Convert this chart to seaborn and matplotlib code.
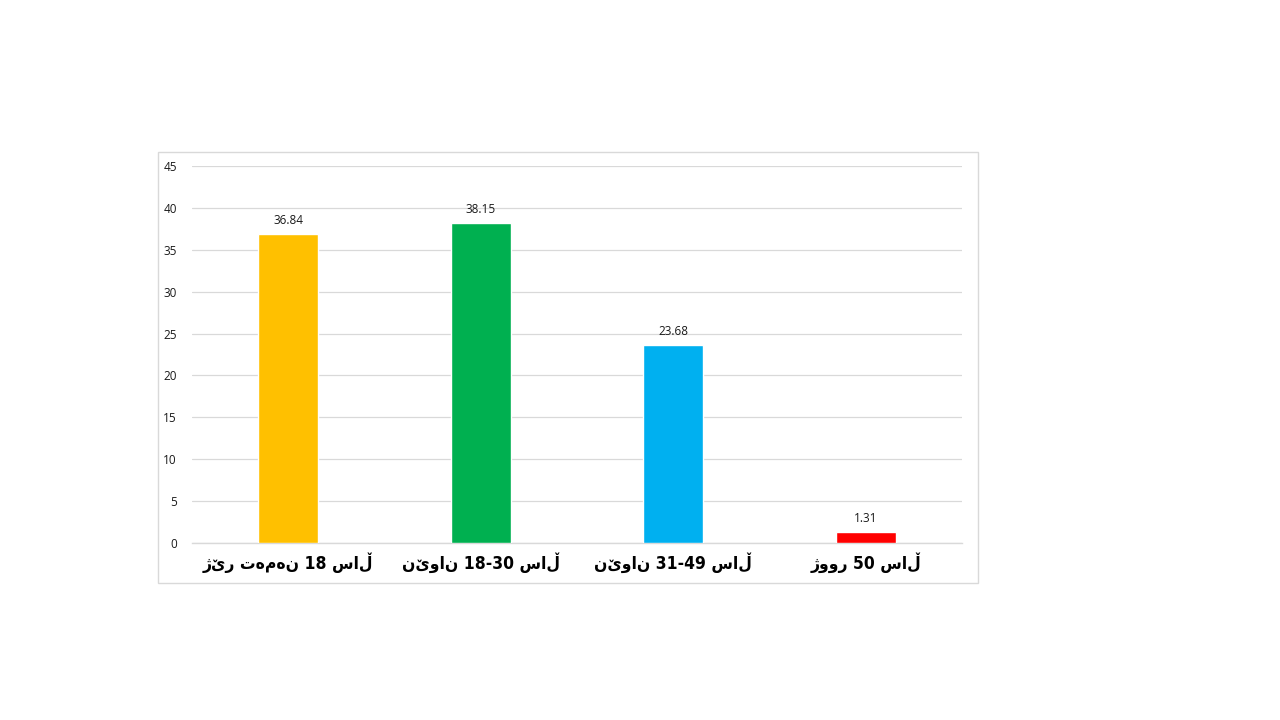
import matplotlib
matplotlib.use("Agg")
import matplotlib.pyplot as plt
import seaborn as sns
import pandas as pd
from matplotlib.patches import Rectangle

categories = ["ژێر تەمەن 18 ساڵ", "نێوان 18-30 ساڵ", "نێوان 31-49 ساڵ", "ژوور 50 ساڵ"]
values = [36.84, 38.15, 23.68, 1.31]
colors = ["#FFC000", "#00B050", "#00B0F0", "#FF0000"]
yticks = [0, 5, 10, 15, 20, 25, 30, 35, 40, 45]

sns.set_theme(style="white")
plt.rcParams["font.family"] = ["Open Sans", "DejaVu Sans"]

df = pd.DataFrame({"cat": categories, "val": values})

fig = plt.figure(figsize=(12.8, 7.2), dpi=100)
fig.patch.set_facecolor("white")
# outer chart frame
fig.patches.append(Rectangle((158 / 1280, 1 - 583 / 720), (978 - 158) / 1280, (583 - 152) / 720,
                             transform=fig.transFigure, fill=False, edgecolor="#D9D9D9",
                             linewidth=1.0, zorder=0))
ax = fig.add_axes([192 / 1280, 1 - 543 / 720, (962 - 192) / 1280, (543 - 166) / 720])

sns.barplot(data=df, x="cat", y="val", hue="cat", palette=colors, legend=False,
            width=0.31, saturation=1, ax=ax, zorder=3)

ax.set_ylim(0, 45)
ax.set_xlim(-0.5, 3.5)
ax.set_yticks(yticks)
ax.set_yticklabels([str(t) for t in yticks], fontsize=8.5, color="#1a1a1a")
ax.yaxis.grid(True, color="#D9D9D9", linewidth=0.9, zorder=0)
ax.set_axisbelow(True)
for s in ["top", "right", "left"]:
    ax.spines[s].set_visible(False)
ax.spines["bottom"].set_color("#D9D9D9")
ax.spines["bottom"].set_linewidth(1.0)
ax.tick_params(axis="both", length=0)
ax.tick_params(axis="y", pad=11)
ax.tick_params(axis="x", pad=7)
ax.set_xlabel("")
ax.set_ylabel("")
for lbl in ax.get_xticklabels():
    lbl.set_family(["DejaVu Sans"])
    lbl.set_fontweight("bold")
    lbl.set_fontstretch("condensed")
    lbl.set_fontsize(12.5)
    lbl.set_color("black")

for i, v in enumerate(values):
    ax.annotate(f"{v:.2f}", (i, v), xytext=(0, 5), textcoords="offset points",
                ha="center", va="bottom", fontsize=8.5, color="#1a1a1a")

fig.savefig("out.png", dpi=100, facecolor="white")
